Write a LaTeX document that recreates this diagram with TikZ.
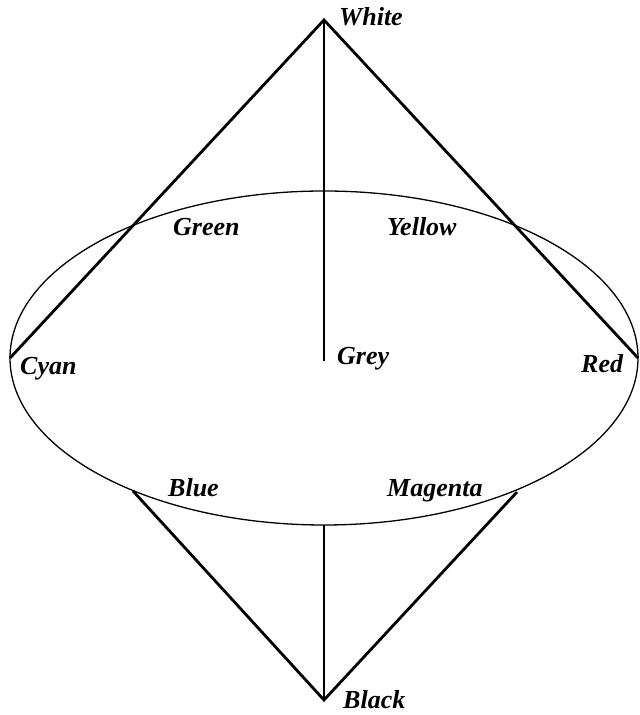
\documentclass[tikz,border=0pt]{standalone}
\usepackage{fontspec}
\setmainfont{Liberation Serif}
\begin{document}
\begin{tikzpicture}[x=1pt,y=1pt,
  edge/.style={line width=2.8pt,line join=miter},
  rim/.style={line width=1.3pt},
  lbl/.style={font=\fontsize{26}{28}\selectfont\bfseries\itshape,inner sep=0pt}]
\useasboundingbox (0,0) rectangle (640,715);
\coordinate (W) at (324,695);
\coordinate (C) at (10,357);
\coordinate (R) at (638,357);
\coordinate (G) at (324,354);
\coordinate (K) at (324,15);
\coordinate (B) at (133,224);
\coordinate (M) at (517,223);
\coordinate (E) at (324,190);
\draw[rim] (324,357) ellipse [x radius=314, y radius=167];
\draw[edge] (C) -- (W) -- (R);
\draw[edge] (W) -- (G);
\draw[edge] (B) -- (K) -- (M);
\draw[edge] (E) -- (K);
\node[lbl,anchor=base west] (tW) at (339,689) {White};
\node[lbl,anchor=base west] (tG) at (173,479) {Green};
\node[lbl,anchor=base west] (tY) at (387,479) {Yellow};
\node[lbl,anchor=base west] (tC) at (20,340) {Cyan};
\node[lbl,anchor=base west] (tR) at (581,342) {Red};
\node[lbl,anchor=base west] (tGr) at (337,350) {Grey};
\node[lbl,anchor=base west] (tB) at (168,218) {Blue};
\node[lbl,anchor=base west] (tM) at (387,218) {Magenta};
\node[lbl,anchor=base west] (tK) at (343,6) {Black};
\end{tikzpicture}
\end{document}
